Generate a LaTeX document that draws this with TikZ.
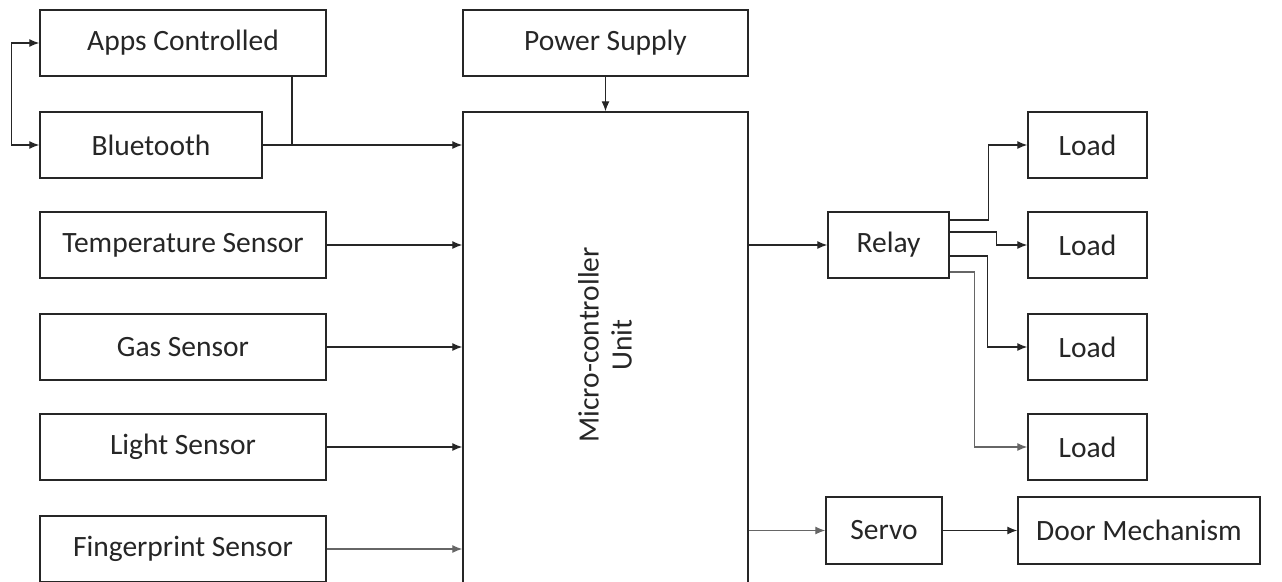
\documentclass[tikz,border=0pt]{standalone}
\usepackage{fontspec}
\setmainfont{Carlito}
\usetikzlibrary{arrows.meta}
\begin{document}
\begin{tikzpicture}[x=1pt,y=-1pt,
  box/.style={draw=black!85, line width=1.4pt, fill=white, inner sep=0pt,
    font=\fontsize{29.5pt}{35pt}\selectfont, text=black!85},
  arr/.style={line width=1.3pt, draw=black!85, -{Latex[length=10pt,width=8pt]}},
  ln/.style={line width=1.3pt, draw=black!85}]
\useasboundingbox (0,0) rectangle (1282,581);
\clip (0,0) rectangle (1282,581);
% left column
\node[box, minimum width=286pt, minimum height=66pt] (apps) at (183,43) {Apps Controlled};
\node[box, minimum width=222pt, minimum height=66pt] (bt) at (151,145) {Bluetooth};
\node[box, minimum width=286pt, minimum height=66pt] (temp) at (183,245) {Temperature Sensor};
\node[box, minimum width=286pt, minimum height=66pt] (gas) at (183,347) {Gas Sensor};
\node[box, minimum width=286pt, minimum height=66pt] (light) at (183,447) {Light Sensor};
\node[box, minimum width=286pt, minimum height=66pt] (finger) at (183,549) {Fingerprint Sensor};
% center
\node[box, minimum width=285pt, minimum height=66pt] (power) at (605.5,43) {Power Supply};
\node[box, minimum width=285pt, minimum height=488pt] (mcu) at (605.5,356) {};
\node[rotate=90, align=center, font=\fontsize{29.5pt}{33pt}\selectfont, text=black!85] (mcutext) at (605,345) {Micro-controller\\Unit};
% right
\node[box, minimum width=121pt, minimum height=66pt] (relay) at (888.5,245) {Relay};
\node[box, minimum width=119pt, minimum height=66pt] (load1) at (1087.5,145) {Load};
\node[box, minimum width=119pt, minimum height=66pt] (load2) at (1087.5,245) {Load};
\node[box, minimum width=119pt, minimum height=66pt] (load3) at (1087.5,347) {Load};
\node[box, minimum width=119pt, minimum height=66pt] (load4) at (1087.5,447) {Load};
\node[box, minimum width=116pt, minimum height=67pt] (servo) at (884,530.5) {Servo};
\node[box, minimum width=242pt, minimum height=67pt] (door) at (1139,530.5) {Door Mechanism};
% connectors
\coordinate (j) at (292,145);
\draw[arr, {Latex[length=10pt,width=8pt]}-{Latex[length=10pt,width=8pt]}] (apps.west) -- ++(-28,0) |- (bt.west);
\draw[ln] (apps.south -| j) -- (j);
\draw[arr] (bt.east) -- (bt.east -| mcu.west);
\draw[arr] (temp.east) -- (temp.east -| mcu.west);
\draw[arr] (gas.east) -- (gas.east -| mcu.west);
\draw[arr] (light.east) -- (light.east -| mcu.west);
\draw[arr, draw=black!60] (finger.east) -- (finger.east -| mcu.west);
\draw[arr] (power.south) -- (mcu.north);
\draw[arr] (relay.west -| mcu.east) -- (relay.west);
\draw[arr, draw=black!60] (servo.west -| mcu.east) -- (servo.west);
\draw[arr] (servo.east) -- (door.west);
\draw[arr] ([yshift=25pt]relay.east) -- ++(39,0) |- (load1.west);
\draw[arr] ([yshift=13pt]relay.east) -- ++(47,0) |- (load2.west);
\draw[arr] ([yshift=-11pt]relay.east) -- ++(38,0) |- (load3.west);
\draw[arr, draw=black!60] ([yshift=-27pt]relay.east) -- ++(25,0) |- (load4.west);
\end{tikzpicture}
\end{document}
